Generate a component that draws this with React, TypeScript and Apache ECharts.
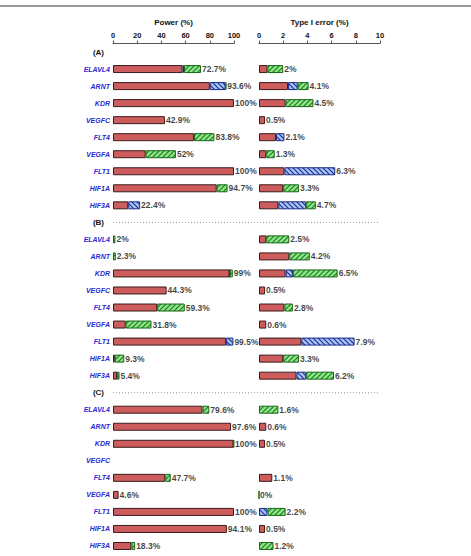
import React, { useEffect, useRef } from "react";
import * as echarts from "echarts";

const genes = ["ELAVL4", "ARNT", "KDR", "VEGFC", "FLT4", "VEGFA", "FLT1", "HIF1A", "HIF3A"];
const sections = ["(A)", "(B)", "(C)"];
const powerTicks = [0, 20, 40, 60, 80, 100];
const errorTicks = [0, 2, 4, 6, 8, 10];

// Power (%) — red / blue-hatched / green-hatched segments per section
const powerRedA = [57.5, 80.0, 100, 42.9, 67.0, 27.0, 100, 85.7, 12.6];
const powerBlueA = [1.2, 13.0, null, null, null, null, null, null, 9.8];
const powerGreenA = [14.0, 0.6, null, null, 16.8, 25.0, null, 9.0, null];
const powerLabelA = ["72.7%", "93.6%", "100%", "42.9%", "83.8%", "52%", "100%", "94.7%", "22.4%"];

const powerRedB = [null, null, 96.3, 44.3, 36.5, 10.5, 93.5, 1.5, 3.4];
const powerBlueB = [null, null, 0.2, null, null, null, 6.0, null, null];
const powerGreenB = [2.0, 2.3, 2.5, null, 22.8, 21.3, null, 7.8, 2.0];
const powerLabelB = ["2%", "2.3%", "99%", "44.3%", "59.3%", "31.8%", "99.5%", "9.3%", "5.4%"];

const powerRedC = [74.0, 97.6, 99.6, null, 43.2, 4.6, 100, 94.1, 15.2];
const powerBlueC = [null, null, null, null, null, null, null, null, null];
const powerGreenC = [5.6, null, 0.4, null, 4.5, null, null, null, 3.1];
const powerLabelC = ["79.6%", "97.6%", "100%", "", "47.7%", "4.6%", "100%", "94.1%", "18.3%"];

// Type I error (%)
const errRedA = [0.7, 2.4, 2.2, 0.5, 1.4, 0.6, 2.1, 2.0, 1.6];
const errBlueA = [null, 0.8, null, null, 0.7, null, 4.2, null, 2.3];
const errGreenA = [1.3, 0.9, 2.3, null, null, 0.7, null, 1.3, 0.8];
const errLabelA = ["2%", "4.1%", "4.5%", "0.5%", "2.1%", "1.3%", "6.3%", "3.3%", "4.7%"];

const errRedB = [0.6, 2.5, 2.2, 0.5, 2.1, 0.6, 3.5, 2.0, 3.1];
const errBlueB = [null, null, 0.6, null, null, null, 4.4, null, 0.8];
const errGreenB = [1.9, 1.7, 3.7, null, 0.7, null, null, 1.3, 2.3];
const errLabelB = ["2.5%", "4.2%", "6.5%", "0.5%", "2.8%", "0.6%", "7.9%", "3.3%", "6.2%"];

const errRedC = [null, 0.6, 0.5, null, 1.1, null, null, 0.5, null];
const errBlueC = [null, null, null, null, null, null, 0.7, null, null];
const errGreenC = [1.6, null, null, null, null, 0, 1.5, null, 1.2];
const errLabelC = ["1.6%", "0.6%", "0.5%", "", "1.1%", "0%", "2.2%", "0.5%", "1.2%"];

type V = number | null;

function joinRows(a: V[], b: V[], c: V[]): V[] {
  return [null, ...a, null, ...b, null, ...c];
}
function joinLabels(a: string[], b: string[], c: string[]): string[] {
  return ["", ...a, "", ...b, "", ...c];
}

const displayNames: string[] = [sections[0], ...genes, sections[1], ...genes, sections[2], ...genes];
const catKeys = displayNames.map((n, i) => "k" + i);

function makePattern(bg: string, fg: string, forward: boolean) {
  const s = 5;
  const c = document.createElement("canvas");
  c.width = s;
  c.height = s;
  const ctx = c.getContext("2d")!;
  ctx.fillStyle = bg;
  ctx.fillRect(0, 0, s, s);
  ctx.strokeStyle = fg;
  ctx.lineWidth = 1.2;
  const segs = forward
    ? [[-1, s + 1, s + 1, -1], [-1, 1, 1, -1], [s - 1, s + 1, s + 1, s - 1]]
    : [[-1, -1, s + 1, s + 1], [-1, s - 1, 1, s + 1], [s - 1, -1, s + 1, 1]];
  segs.forEach(([x1, y1, x2, y2]) => {
    ctx.beginPath();
    ctx.moveTo(x1, y1);
    ctx.lineTo(x2, y2);
    ctx.stroke();
  });
  return c;
}

export default function App() {
  const ref = useRef<HTMLDivElement>(null);
  useEffect(() => {
    if (!ref.current) return;
    const chart = echarts.init(ref.current, null, { renderer: "svg" });
    const bluePat = { image: makePattern("#a9c6f2", "#1f2e9c", false), repeat: "repeat" };
    const greenPat = { image: makePattern("#8fe58a", "#1d7f1d", true), repeat: "repeat" };
    const font = "Arial, 'Liberation Sans', sans-serif";
    const BW = 8;

    const panels = [
      {
        red: joinRows(powerRedA, powerRedB, powerRedC),
        blue: joinRows(powerBlueA, powerBlueB, powerBlueC),
        green: joinRows(powerGreenA, powerGreenB, powerGreenC),
        labels: joinLabels(powerLabelA, powerLabelB, powerLabelC),
      },
      {
        red: joinRows(errRedA, errRedB, errRedC),
        blue: joinRows(errBlueA, errBlueB, errBlueC),
        green: joinRows(errGreenA, errGreenB, errGreenC),
        labels: joinLabels(errLabelA, errLabelB, errLabelC),
      },
    ];

    const series: any[] = [];
    panels.forEach((p, gi) => {
      const common = {
        type: "bar",
        stack: "s" + gi,
        xAxisIndex: gi,
        yAxisIndex: gi,
        barWidth: BW,
        silent: true,
      };
      series.push({
        ...common,
        name: "red" + gi,
        data: p.red,
        itemStyle: { color: "#cd5c5c", borderColor: "#3a1c1c", borderWidth: 1 },
      });
      series.push({
        ...common,
        name: "blue" + gi,
        data: p.blue,
        itemStyle: { color: bluePat, borderColor: "#1a2a8a", borderWidth: 1 },
      });
      series.push({
        ...common,
        name: "green" + gi,
        data: p.green,
        itemStyle: { color: greenPat, borderColor: "#17661a", borderWidth: 1 },
      });
      const labelData = p.labels.map((t, i) => {
        if (!t) return null;
        const tot = (p.red[i] || 0) + (p.blue[i] || 0) + (p.green[i] || 0);
        return [tot, i];
      });
      series.push({
        type: "scatter",
        xAxisIndex: gi,
        yAxisIndex: gi,
        symbolSize: 0,
        silent: true,
        data: labelData,
        label: {
          show: true,
          position: "right",
          distance: 1,
          formatter: (pr: any) => p.labels[pr.dataIndex],
          fontFamily: font,
          fontWeight: "bold",
          fontSize: 8.5,
          color: "#111",
        },
      });
    });

    const xAxisCommon = (gi: number, name: string, max: number, interval: number) => ({
      type: "value",
      gridIndex: gi,
      position: "top",
      min: 0,
      max,
      interval,
      name,
      nameLocation: "middle",
      nameGap: 17,
      nameTextStyle: { fontFamily: font, fontWeight: "bold", fontSize: 8, color: "#111" },
      axisLine: { show: true, lineStyle: { color: "#555", width: 1 } },
      axisTick: { show: true, length: 3, lineStyle: { color: "#555" } },
      axisLabel: { fontFamily: font, fontWeight: "bold", fontSize: 7.5, color: "#111", margin: 4 },
      splitLine: { show: false },
    });

    const yAxisCommon = (gi: number, showLabels: boolean) => ({
      type: "category",
      gridIndex: gi,
      inverse: true,
      data: catKeys,
      axisLine: { show: false },
      axisTick: { show: false },
      axisLabel: {
        show: showLabels,
        margin: 3,
        interval: 0,
        formatter: (_v: string, idx: number) => {
          const n = displayNames[idx];
          return sections.includes(n) ? "{s|" + n + "}" : "{g|" + n + "}";
        },
        rich: {
          g: { fontFamily: font, fontWeight: "bold", fontStyle: "italic", fontSize: 7, color: "#2a2ad2" },
          s: { fontFamily: font, fontWeight: "bold", fontSize: 8, color: "#111", padding: [0, 6, 0, 0] },
        },
      },
      splitLine: { show: false },
    });

    chart.setOption({
      animation: false,
      backgroundColor: "#fff",
      grid: [
        { left: 113, top: 43.5, width: 121, height: 511 },
        { left: 259, top: 43.5, width: 121, height: 511 },
      ],
      xAxis: [
        xAxisCommon(0, "Power (%)", 100, 20),
        xAxisCommon(1, "Type I error (%)", 10, 2),
      ],
      yAxis: [yAxisCommon(0, true), yAxisCommon(1, false)],
      series,
    });

    const xStart = chart.convertToPixel({ xAxisIndex: 0 }, powerTicks[0]) as number;
    const xEnd = chart.convertToPixel({ xAxisIndex: 1 }, errorTicks[errorTicks.length - 1]) as number;
    const sepIdx = [displayNames.indexOf(sections[1]), displayNames.lastIndexOf(sections[2])];
    const graphics: any[] = [
      {
        type: "line",
        shape: { x1: 0, y1: 6, x2: 471, y2: 6 },
        style: { stroke: "#7a7a7a", lineWidth: 1.5 },
        silent: true,
      },
    ];
    sepIdx.forEach((idx) => {
      const y = chart.convertToPixel({ yAxisIndex: 0 }, idx) as number;
      graphics.push({
        type: "line",
        shape: { x1: xStart, y1: y, x2: xEnd, y2: y },
        style: { stroke: "#999", lineWidth: 1, lineDash: [1, 2] },
        silent: true,
      });
    });
    chart.setOption({ graphic: graphics });

    return () => chart.dispose();
  }, []);

  return (
    <div
      ref={ref}
      style={{ position: "absolute", left: 0, top: 0, width: 471, height: 556, background: "#fff" }}
    />
  );
}
